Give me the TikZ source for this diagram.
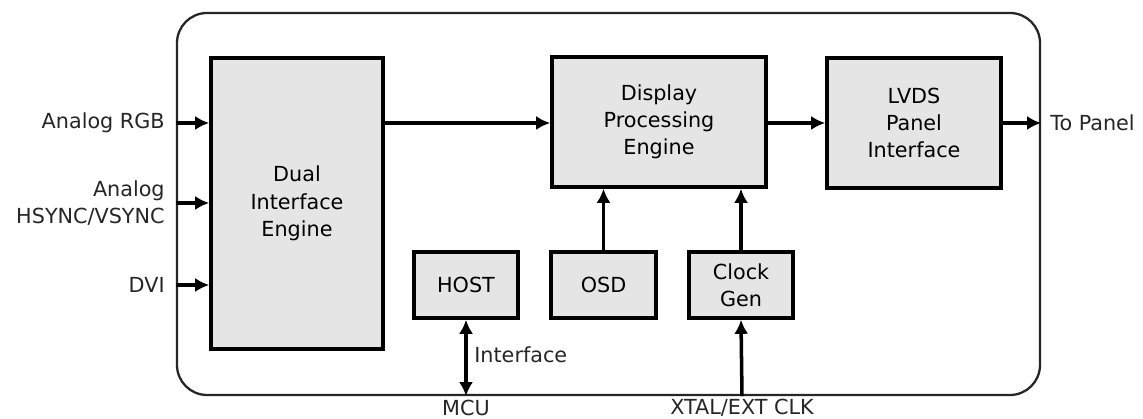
\documentclass[tikz,border=0pt]{standalone}
\usepackage{fontspec}
\setmainfont{DejaVu Sans}
\usetikzlibrary{arrows.meta}
\tikzset{
  blk/.style={draw, line width=2pt, fill=black!10, align=center, inner sep=0pt},
  sig/.style={line width=2pt, -{Latex[length=8pt,width=8pt]}},
  lbl/.style={inner sep=0pt, align=right, text=black!85}
}
\begin{document}
\begin{tikzpicture}[font=\fontsize{11.8}{15.5}\selectfont]
  \useasboundingbox (0,0) rectangle (22.86,8.38);

  % chip outline
  \node[draw, line width=1.3pt, draw=black!85, rounded corners=0.6cm, minimum width=17.26cm, minimum height=7.64cm] (chip) at (12.17, 4.30) {};

  % blocks
  \node[blk, minimum width=3.44cm, minimum height=5.82cm] (dual) at (5.94, 4.31) {Dual\\Interface\\Engine};
  \node[blk, minimum width=4.28cm, minimum height=2.6cm] (disp) at (13.18, 5.94) {Display\\Processing\\Engine};
  \node[blk, minimum width=3.48cm, minimum height=2.6cm] (lvds) at (18.28, 5.92) {LVDS\\Panel\\Interface};
  \node[blk, minimum width=2.08cm, minimum height=1.32cm] (host) at (9.32, 2.68) {HOST};
  \node[blk, minimum width=2.1cm, minimum height=1.32cm] (osd) at (12.07, 2.68) {OSD};
  \node[blk, minimum width=2.08cm, minimum height=1.32cm] (clk) at (14.82, 2.68) {Clock\\Gen};

  % outside labels
  \node[lbl, anchor=east] (rgb) at (3.3, 5.92) {Analog RGB};
  \node[lbl, anchor=east] (sync) at (3.3, 4.32) {Analog\\HSYNC/VSYNC};
  \node[lbl, anchor=east] (dvi) at (3.3, 2.68) {DVI};
  \node[lbl, anchor=west] (panel) at (21.0, 5.92) {To Panel};
  \node[lbl, anchor=west] (intf) at (9.48, 1.28) {Interface};
  \node[lbl] (mcu) at (9.32, 0.23) {MCU};
  \node[lbl] (xtal) at (14.84, 0.23) {XTAL/EXT CLK};

  % signals
  \draw[sig] (chip.west |- rgb.east) -- (dual.west |- rgb.east);
  \draw[sig] (chip.west |- sync.east) -- (dual.west |- sync.east);
  \draw[sig] (chip.west |- dvi.east) -- (dual.west |- dvi.east);
  \draw[sig] (dual.east |- lvds.west) -- (disp.west |- lvds.west);
  \draw[sig] (disp.east |- lvds.west) -- (lvds.west);
  \draw[sig] (lvds.east) -- (chip.east |- lvds.east);
  \draw[sig] (osd.north) -- (osd.north |- disp.south);
  \draw[sig] (clk.north) -- (clk.north |- disp.south);
  \draw[sig] (xtal.north |- chip.south) -- (clk.south);
  \draw[sig, {Latex[length=8pt,width=8pt]}-{Latex[length=8pt,width=8pt]}] (host.south) -- (host.south |- chip.south);
\end{tikzpicture}
\end{document}
